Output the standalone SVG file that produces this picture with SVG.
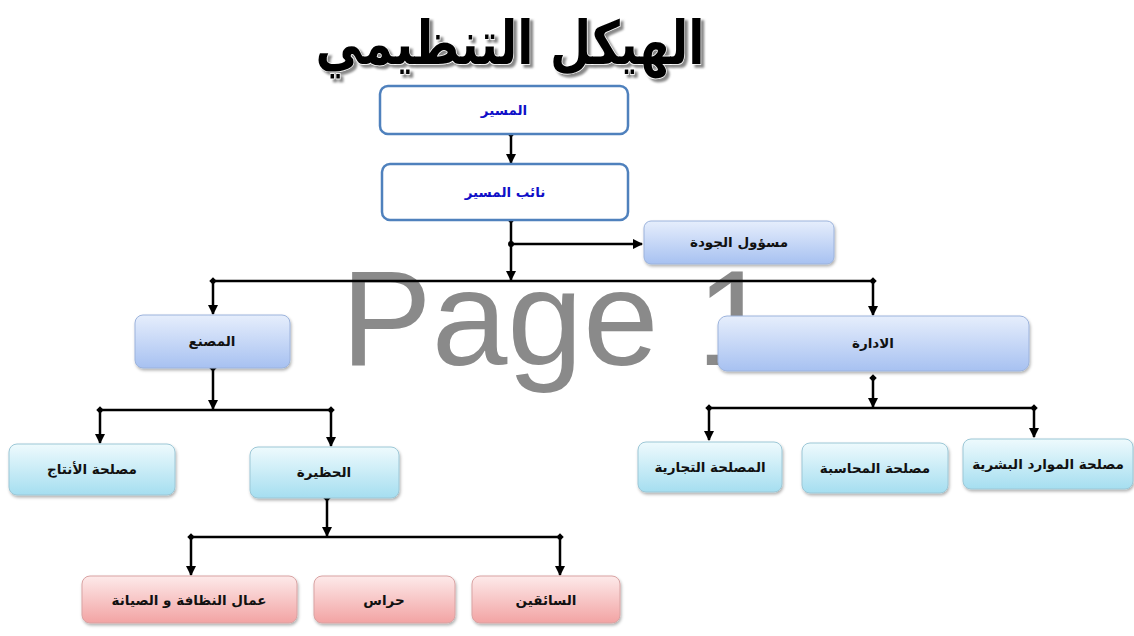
<svg xmlns="http://www.w3.org/2000/svg" width="1134" height="636" viewBox="0 0 1134 636">
<defs>
<linearGradient id="gBlue" x1="0" y1="0" x2="0" y2="1"><stop offset="0" stop-color="#e6eefc"/><stop offset="1" stop-color="#a7c1f1"/></linearGradient>
<linearGradient id="gCyan" x1="0" y1="0" x2="0" y2="1"><stop offset="0" stop-color="#eefafd"/><stop offset="1" stop-color="#a5def0"/></linearGradient>
<linearGradient id="gPink" x1="0" y1="0" x2="0" y2="1"><stop offset="0" stop-color="#fdeaea"/><stop offset="1" stop-color="#f2a3a3"/></linearGradient>
<filter id="sh" x="-10%" y="-10%" width="120%" height="130%"><feDropShadow dx="1" dy="2" stdDeviation="1.5" flood-color="#000" flood-opacity="0.3"/></filter>
<filter id="tsh" x="-5%" y="-10%" width="110%" height="130%"><feDropShadow dx="3" dy="3" stdDeviation="0.8" flood-color="#888" flood-opacity="1"/></filter>
<marker id="ah" viewBox="0 0 10 10" refX="9" refY="5" markerWidth="4.2" markerHeight="4.2" orient="auto" markerUnits="strokeWidth"><path d="M0,0 L10,5 L0,10 z" fill="#000"/></marker>
<marker id="dm" viewBox="0 0 10 10" refX="5" refY="5" markerWidth="3" markerHeight="3" orient="auto" markerUnits="strokeWidth"><path d="M5,0 L10,5 L5,10 L0,5 z" fill="#000"/></marker>
</defs>
<style>
.wm{font-family:"Liberation Sans",Arial,sans-serif;font-size:136px;fill:#8a8a8a}
.title{font-family:"DejaVu Sans",sans-serif;font-weight:bold;font-size:60px}
.b0{fill:#fff;stroke:#4f81bd;stroke-width:2.5}
.bb{fill:url(#gBlue);stroke:#9cb3dc;stroke-width:1;filter:url(#sh)}
.bc{fill:url(#gCyan);stroke:#9cc7d6;stroke-width:1;filter:url(#sh)}
.bp{fill:url(#gPink);stroke:#d9a3a3;stroke-width:1;filter:url(#sh)}
.t{font-family:"DejaVu Sans",sans-serif;font-weight:bold;font-size:13.5px;fill:#111;text-anchor:middle;dominant-baseline:central}
.tb{fill:#1010c8}
.c{stroke:#000;stroke-width:2.5;fill:none}
.a{marker-end:url(#ah)}
.d{marker-start:url(#dm)}
</style>
<rect width="1134" height="636" fill="#fff"/>
<text class="wm" x="341" y="365">Page 1</text>
<g id="title" filter="url(#tsh)">
<text class="title" transform="translate(510,64) scale(0.79,1)" x="0" y="0" text-anchor="middle" fill="#000" stroke="#fff" stroke-width="1.5" paint-order="stroke" direction="rtl">الهيكل التنظيمي</text>
</g>
<g id="connectors">
<path class="c a d" d="M511,134 V163"/>
<path class="c a d" d="M511,220 V280"/>
<path class="c a" d="M511,244 H642"/>
<circle cx="511" cy="244" r="3"/>
<path class="c" d="M213,281 H873"/>
<path class="c a d" d="M213,281 V314"/>
<path class="c a d" d="M873,281 V315"/>
<path class="c a d" d="M213,368 V409"/>
<path class="c" d="M100,410 H331"/>
<path class="c a d" d="M100,410 V443"/>
<path class="c a d" d="M331,410 V446"/>
<path class="c a d" d="M327,498 V536"/>
<path class="c" d="M191,537 H560"/>
<path class="c a d" d="M191,537 V575"/>
<path class="c a d" d="M560,537 V575"/>
<path class="c a d" d="M873,378 V407"/>
<path class="c" d="M709,408 H1034"/>
<path class="c a d" d="M709,408 V440"/>
<path class="c a d" d="M1034,408 V437"/>
</g>
<g id="n-director"><rect class="b0" x="380" y="86" width="248" height="48" rx="8"/><text class="t tb" x="504" y="110">المسير</text></g>
<g id="n-deputy"><rect class="b0" x="382" y="164" width="246" height="56" rx="8"/><text class="t tb" x="505" y="192">نائب المسير</text></g>
<g id="n-quality"><rect class="bb" x="644" y="221" width="190" height="43" rx="7"/><text class="t" x="739" y="242">مسؤول الجودة</text></g>
<g id="n-factory"><rect class="bb" x="135" y="315" width="155" height="53" rx="8"/><text class="t" x="212" y="341">المصنع</text></g>
<g id="n-admin"><rect class="bb" x="718" y="316" width="311" height="55" rx="9"/><text class="t" x="873" y="343">الادارة</text></g>
<g id="n-production"><rect class="bc" x="9" y="444" width="166" height="51" rx="8"/><text class="t" x="92" y="469">مصلحة الأنتاج</text></g>
<g id="n-garage"><rect class="bc" x="250" y="447" width="149" height="51" rx="8"/><text class="t" x="324" y="472">الحظيرة</text></g>
<g id="n-commercial"><rect class="bc" x="638" y="442" width="144" height="50" rx="8"/><text class="t" x="710" y="467">المصلحة التجارية</text></g>
<g id="n-accounting"><rect class="bc" x="802" y="443" width="146" height="50" rx="8"/><text class="t" x="875" y="468">مصلحة المحاسبة</text></g>
<g id="n-hr"><rect class="bc" x="963" y="439" width="170" height="50" rx="8"/><text class="t" x="1048" y="464">مصلحة الموارد البشرية</text></g>
<g id="n-cleaning"><rect class="bp" x="82" y="576" width="215" height="47" rx="8"/><text class="t" x="189" y="600">عمال النظافة و الصيانة</text></g>
<g id="n-guards"><rect class="bp" x="314" y="576" width="141" height="47" rx="8"/><text class="t" x="384" y="600">حراس</text></g>
<g id="n-drivers"><rect class="bp" x="472" y="576" width="148" height="47" rx="8"/><text class="t" x="546" y="600">السائقين</text></g>
</svg>
